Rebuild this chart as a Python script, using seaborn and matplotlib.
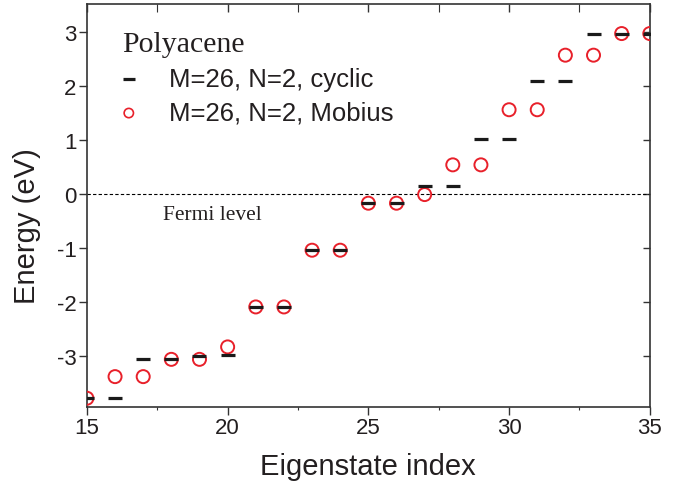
import matplotlib
matplotlib.use("Agg")
import matplotlib.pyplot as plt
import seaborn as sns
import pandas as pd
from matplotlib.ticker import MultipleLocator

# ---- data ----
index = list(range(15, 36))
cyclic = [-3.78, -3.78, -3.06, -3.06, -2.99, -2.98, -2.09, -2.09, -1.04, -1.04,
          -0.17, -0.17, 0.14, 0.14, 1.02, 1.02, 2.09, 2.09, 2.97, 2.97, 2.97]
mobius = [-3.78, -3.38, -3.38, -3.06, -3.06, -2.83, -2.09, -2.09, -1.04, -1.04,
          -0.17, -0.17, -0.01, 0.54, 0.54, 1.56, 1.56, 2.57, 2.57, 2.97, 2.97]
label_cyclic = "M=26, N=2, cyclic"
label_mobius = "M=26, N=2, Mobius"
legend_title = "Polyacene"
fermi_text = "Fermi level"
x_ticks = [15, 20, 25, 30, 35]
y_ticks = [-3, -2, -1, 0, 1, 2, 3]

df = pd.DataFrame({"idx": index, "cyclic": cyclic, "mobius": mobius})

sns.set_style("ticks")
plt.rcParams["font.family"] = ["Liberation Sans", "DejaVu Sans"]
plt.rcParams["axes.unicode_minus"] = False
TXT = "#231f20"
SPINE = "#333333"
RED = "#e8202a"

fig = plt.figure(figsize=(6.79, 4.85), dpi=100)
ax = fig.add_axes([0.128, 0.159, 0.829, 0.831])

ax.axhline(0, color="black", lw=0.8, ls=(0, (3, 2)), zorder=1)

sns.scatterplot(data=df, x="idx", y="mobius", marker="o", s=88,
                facecolors="none", edgecolors=RED, linewidths=1.4,
                ax=ax, zorder=3, label=label_mobius)
sns.scatterplot(data=df, x="idx", y="cyclic", marker="_", s=90,
                color="#1a1a1a", linewidths=2.3, ax=ax, zorder=4,
                label=label_cyclic)
for coll in ax.collections:
    if coll.get_label() == label_mobius:
        coll.set_facecolor("none")
        coll.set_edgecolor(RED)

ax.set_xlim(15, 35)
ax.set_ylim(-3.94, 3.52)
ax.set_xticks(x_ticks)
ax.set_yticks(y_ticks)
ax.xaxis.set_minor_locator(MultipleLocator(2.5))
ax.tick_params(axis="both", which="major", labelsize=16, colors=SPINE,
               labelcolor=TXT, direction="out", length=5.5, width=1.0, pad=2)
ax.tick_params(axis="x", which="minor", direction="out", length=2.5, width=0.8,
               colors=SPINE)
ax.tick_params(top=True, right=True, which="both")
for t in ax.xaxis.get_major_ticks() + ax.xaxis.get_minor_ticks():
    t.tick2line.set_marker(3)      # top ticks pointing inward
    t.tick2line.set_markersize(5.5)
for t in ax.yaxis.get_major_ticks():
    t.tick2line.set_marker(0)      # right ticks pointing inward
    t.tick2line.set_markersize(5)

for s in ax.spines.values():
    s.set_color(SPINE)
    s.set_linewidth(1.2)

ax.set_xlabel("Eigenstate index", fontsize=21, color=TXT, labelpad=10)
ax.set_ylabel("Energy (eV)", fontsize=21, color=TXT)
ax.yaxis.set_label_coords(-0.081, 0.451)

ax.text(17.7, -0.37, fermi_text, family=["Liberation Serif"], fontsize=15.5,
        color=TXT, ha="left", va="center")

handles, labels = ax.get_legend_handles_labels()
order = [labels.index(label_cyclic), labels.index(label_mobius)]
leg = ax.legend([handles[i] for i in order], [labels[i] for i in order],
                title=legend_title, loc="upper left", frameon=False,
                fontsize=18.5, alignment="left", handletextpad=1.3,
                handlelength=0.5, borderpad=0, borderaxespad=0,
                labelspacing=0.38, bbox_to_anchor=(0.063, 0.932))
leg.get_title().set_family("Liberation Serif")
leg.get_title().set_fontsize(21.5)
leg.get_title().set_color(TXT)
for t in leg.get_texts():
    t.set_color(TXT)
lh = leg.legend_handles
lh[0].set_sizes([80])
lh[1].set_sizes([45])
lh[1].set_linewidths([1.2])

fig.savefig("out.png", dpi=100)
